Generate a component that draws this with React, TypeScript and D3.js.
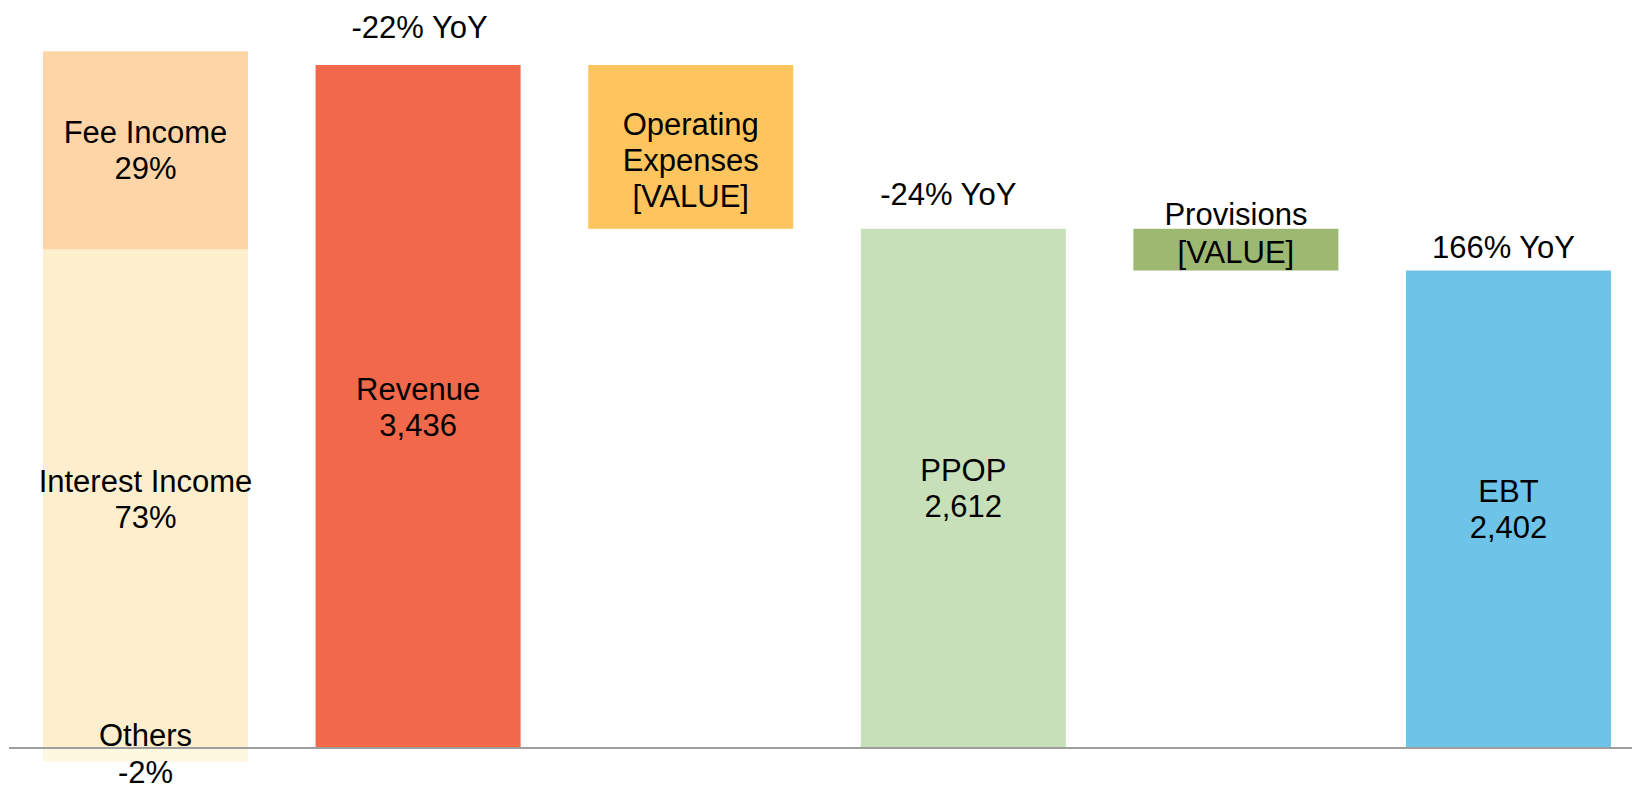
import React from "react";
import * as d3 from "d3";

const categories = ["Composition", "Revenue", "Operating Expenses", "PPOP", "Provisions", "EBT"];
const revenue = 3436;
const ppop = 2612;
const ebt = 2402;
const compNames = ["Others", "Interest Income", "Fee Income"];
const compShares = [-2, 73, 29];
const yoyLabels = ["-22% YoY", "-24% YoY", "166% YoY"];
const yoyCats = ["Revenue", "PPOP", "EBT"];

const W = 1632;
const H = 786;
const FS = 31;
const LH = 36;
const CAP = 0.716 * FS;

function Lines({ x, cy, lines, spacing = LH }: { x: number; cy: number; lines: string[]; spacing?: number }) {
  const n = lines.length;
  return (
    <text textAnchor="middle" fontFamily="'Liberation Sans', Arial, sans-serif" fontSize={FS} fill="#000">
      {lines.map((l, i) => (
        <tspan key={i} x={x} y={cy + (i - (n - 1) / 2) * spacing + CAP / 2}>
          {l}
        </tspan>
      ))}
    </text>
  );
}

export default function App() {
  const x = d3.scaleBand<string>().domain(categories).range([43, 1611]).paddingInner(0.248).paddingOuter(0);
  const y = d3.scaleLinear().domain([0, revenue]).range([748, 65]);
  const bw = x.bandwidth();
  const fmt = d3.format(",");

  const compColors = ["#FFF8E0", "#FDEFCD", "#FDD5A7"];
  let posBase = 0;
  const compSegs = compShares.map((s, i) => {
    const v = (s / 100) * revenue;
    let y0: number, y1: number;
    if (v < 0) {
      y0 = 0;
      y1 = v;
    } else {
      y0 = posBase;
      y1 = posBase + v;
      posBase = y1;
    }
    return { name: compNames[i], share: s, y0, y1, color: compColors[i] };
  });

  const opex = revenue - ppop;
  const prov = ppop - ebt;
  const bars = [
    { cat: "Revenue", lo: 0, hi: revenue, color: "#F1684A", lines: ["Revenue", fmt(revenue)], dy: 0 },
    { cat: "Operating Expenses", lo: ppop, hi: ppop + opex, color: "#FEC55F", lines: ["Operating", "Expenses", "[VALUE]"], dy: 13 },
    { cat: "PPOP", lo: 0, hi: ppop, color: "#C7E0BA", lines: ["PPOP", fmt(ppop)], dy: 0 },
    { cat: "Provisions", lo: ebt, hi: ebt + prov, color: "#9DB871", lines: ["Provisions", "[VALUE]"], dy: -17 },
    { cat: "EBT", lo: 0, hi: ebt, color: "#6EC3E8", lines: ["EBT", fmt(ebt)], dy: 0 },
  ];
  const yoyTops: Record<string, number> = { Revenue: revenue, PPOP: ppop, EBT: ebt };
  const yoyGap = [27.5, 24, 13];
  const yoyDx = [1.5, -15, -5];

  const cx0 = (x("Composition") as number) + bw / 2;

  return (
    <svg width={W} height={H} style={{ position: "absolute", left: 0, top: 0, background: "#fff" }}>
      {compSegs.map((s) => (
        <rect
          key={s.name}
          x={x("Composition")}
          y={y(Math.max(s.y0, s.y1))}
          width={bw}
          height={Math.abs(y(s.y0) - y(s.y1))}
          fill={s.color}
        />
      ))}
      {bars.map((b) => (
        <rect key={b.cat} x={x(b.cat)} y={y(b.hi)} width={bw} height={y(b.lo) - y(b.hi)} fill={b.color} />
      ))}
      <line x1={9} x2={W} y1={748} y2={748} stroke="#9E9E9E" strokeWidth={2} />
      {compSegs.map((s) => (
        <Lines
          key={s.name}
          x={cx0}
          cy={(y(s.y0) + y(s.y1)) / 2 - (s.share < 0 ? 1.5 : 0)}
          lines={[s.name, `${s.share}%`]}
          spacing={s.share < 0 ? 37 : LH}
        />
      ))}
      {bars.map((b) => (
        <Lines
          key={b.cat}
          x={(x(b.cat) as number) + bw / 2}
          cy={(y(b.lo) + y(b.hi)) / 2 + b.dy}
          lines={b.lines}
          spacing={b.cat === "Provisions" ? 38 : LH}
        />
      ))}
      {yoyLabels.map((t, i) => (
        <text
          key={t}
          x={(x(yoyCats[i]) as number) + bw / 2 + yoyDx[i]}
          y={y(yoyTops[yoyCats[i]]) - yoyGap[i]}
          textAnchor="middle"
          fontFamily="'Liberation Sans', Arial, sans-serif"
          fontSize={FS}
          fill="#000"
        >
          {t}
        </text>
      ))}
    </svg>
  );
}
